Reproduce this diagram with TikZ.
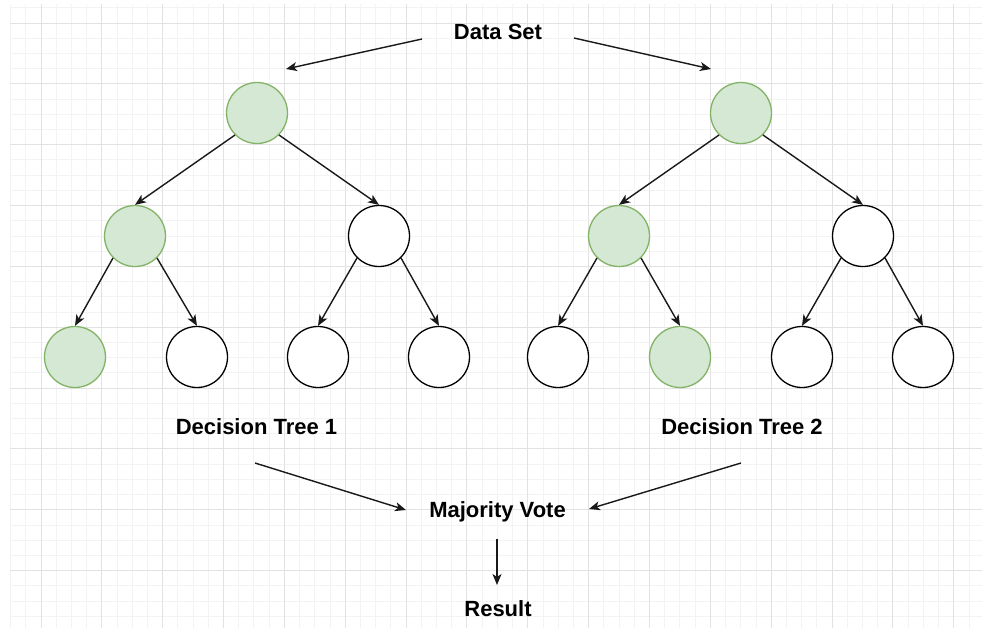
\documentclass[tikz,border=0pt]{standalone}
\usepackage{fontspec}
\setmainfont{Liberation Sans}
\usetikzlibrary{arrows.meta}
\definecolor{gminor}{HTML}{F3F3F3}
\definecolor{gmajor}{HTML}{E2E2E2}
\definecolor{gfill}{HTML}{D5E8D4}
\definecolor{gline}{HTML}{82B366}
\tikzset{
  minorline/.style={draw=gminor, line width=1pt},
  majorline/.style={draw=gmajor, line width=1pt},
  tnode/.style={circle, minimum size=61pt, inner sep=0pt, draw=black, line width=1.3pt, fill=white},
  gnode/.style={tnode, draw=gline, fill=gfill},
  lbl/.style={font=\fontsize{22}{26}\selectfont\bfseries, anchor=base, inner sep=0pt},
  arr/.style={draw=black!90, line width=1.4pt, -{Stealth[length=11pt, width=9pt, inset=3pt]}},
}
\begin{document}
\begin{tikzpicture}[x=1pt, y=-1pt]
\useasboundingbox (0,0) rectangle (982,627);
\fill[white] (0,0) rectangle (982,627);
\begin{scope}
\clip (10,4) rectangle (982,627);
\foreach \i in {-1,...,64} \draw[minorline] ({10.58+15.213*\i},0) -- ++(0,640);
\foreach \j in {-1,...,41} \draw[minorline] (0,{7.8+15.213*\j}) -- ++(1000,0);
\foreach \i in {-1,...,16} \draw[majorline] ({41+60.85*\i},0) -- ++(0,640);
\foreach \j in {-1,...,10} \draw[majorline] (0,{23+60.85*\j}) -- ++(1000,0);
\end{scope}

% labels
\node[lbl] (ds) at (498,39) {Data Set};
\node[lbl] (dt1) at (256.5,434) {Decision Tree 1};
\node[lbl] (dt2) at (742,434) {Decision Tree 2};
\node[lbl] (mv) at (497.5,517) {Majority Vote};
\node[lbl] (res) at (498,616) {Result};

% tree 1
\node[gnode] (a) at (257,113) {};
\node[gnode] (a1) at (135,236) {};
\node[tnode] (a2) at (379,236) {};
\node[gnode] (a11) at (75,357) {};
\node[tnode] (a12) at (197,357) {};
\node[tnode] (a21) at (318,357) {};
\node[tnode] (a22) at (439,357) {};
% tree 2
\node[gnode] (b) at (741,113) {};
\node[gnode] (b1) at (619,236) {};
\node[tnode] (b2) at (863,236) {};
\node[tnode] (b11) at (558,357) {};
\node[gnode] (b12) at (680,357) {};
\node[tnode] (b21) at (802,357) {};
\node[tnode] (b22) at (923,357) {};

\foreach \p/\c in {a/a1,a1/a11,a2/a21,b/b1,b1/b11,b2/b21}
  \draw[arr] (\p.-135) -- (\c.north);
\foreach \p/\c in {a/a2,a1/a12,a2/a22,b/b2,b1/b12,b2/b22}
  \draw[arr] (\p.-45) -- (\c.north);

% free connectors
\coordinate (s1) at (422,39);
\coordinate (e1) at (286,69);
\coordinate (s2) at (574,38);
\coordinate (e2) at (711,69);
\coordinate (s3) at (255,463);
\coordinate (e3) at (406,510);
\coordinate (s4) at (741,463);
\coordinate (e4) at (589,509);
\coordinate (s5) at (497,539);
\coordinate (e5) at (497,585);
\draw[arr] (s1) -- (e1);
\draw[arr] (s2) -- (e2);
\draw[arr] (s3) -- (e3);
\draw[arr] (s4) -- (e4);
\draw[arr] (s5) -- (e5);
\end{tikzpicture}
\end{document}
